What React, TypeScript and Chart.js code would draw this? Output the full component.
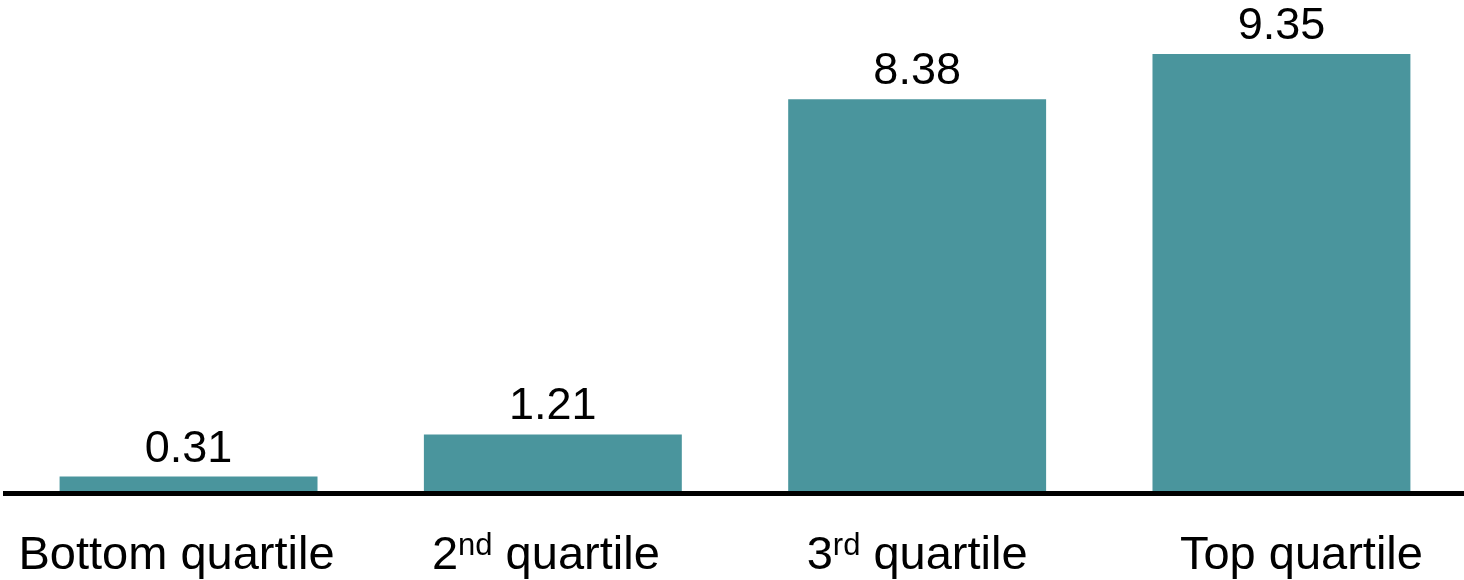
import React, { useEffect, useRef } from "react";
import { Chart, registerables } from "chart.js";

Chart.register(...registerables);

// Quartile groups and their values
const categories = ["Bottom quartile", "2nd quartile", "3rd quartile", "Top quartile"];
const values = [0.31, 1.21, 8.38, 9.35];

const BAR_COLOR = "#4A959D";
const FONT_FAMILY = "'Liberation Sans', Arial, Helvetica, sans-serif";
const VALUE_FONT_SIZE = 45;
const LABEL_FONT_SIZE = 47;
const SUP_SCALE = 0.65;
// small horizontal adjustment of each category caption, in px
const labelShift = [-12, -7, 0, 20];

const annotationPlugin = {
  id: "quartileAnnotations",
  afterDatasetsDraw(chart: any) {
    const { ctx, chartArea } = chart;
    const meta = chart.getDatasetMeta(0);
    const baseY = chartArea.bottom;

    ctx.save();

    // heavy baseline under the bars
    ctx.strokeStyle = "#000000";
    ctx.lineWidth = 5;
    ctx.beginPath();
    ctx.moveTo(3, baseY + 2.5);
    ctx.lineTo(chart.width, baseY + 2.5);
    ctx.stroke();

    // value labels above each bar
    ctx.fillStyle = "#000000";
    ctx.textAlign = "center";
    ctx.textBaseline = "alphabetic";
    ctx.font = `${VALUE_FONT_SIZE}px ${FONT_FAMILY}`;
    meta.data.forEach((bar: any, i: number) => {
      ctx.fillText(values[i].toFixed(2), bar.x, bar.y - 15);
    });

    // category captions, with ordinal suffixes set as superscript
    const mainFont = `${LABEL_FONT_SIZE}px ${FONT_FAMILY}`;
    const supFont = `${Math.round(LABEL_FONT_SIZE * SUP_SCALE)}px ${FONT_FAMILY}`;
    const captionY = baseY + 78;
    ctx.textAlign = "left";
    meta.data.forEach((bar: any, i: number) => {
      const label = categories[i];
      const m = label.match(/^(\d+)(st|nd|rd|th)(.*)$/);
      const parts: { text: string; sup: boolean }[] = m
        ? [
            { text: m[1], sup: false },
            { text: m[2], sup: true },
            { text: m[3], sup: false },
          ]
        : [{ text: label, sup: false }];
      let total = 0;
      parts.forEach((p) => {
        ctx.font = p.sup ? supFont : mainFont;
        total += ctx.measureText(p.text).width;
      });
      let x = bar.x + labelShift[i] - total / 2;
      parts.forEach((p) => {
        ctx.font = p.sup ? supFont : mainFont;
        const y = p.sup ? captionY - LABEL_FONT_SIZE * 0.3 : captionY;
        ctx.fillText(p.text, x, y);
        x += ctx.measureText(p.text).width;
      });
    });

    ctx.restore();
  },
};

export default function App() {
  const canvasRef = useRef<HTMLCanvasElement | null>(null);

  useEffect(() => {
    if (!canvasRef.current) return;
    const chart = new Chart(canvasRef.current, {
      type: "bar",
      data: {
        labels: categories,
        datasets: [
          {
            data: values,
            backgroundColor: BAR_COLOR,
            borderWidth: 0,
            categoryPercentage: 1,
            barPercentage: 0.708,
          },
        ],
      },
      options: {
        responsive: false,
        animation: false,
        layout: {
          padding: { left: 6.4, right: 0.4, top: 23.6, bottom: 89 },
        },
        plugins: {
          legend: { display: false },
          tooltip: { enabled: false },
        },
        scales: {
          x: { display: false },
          y: { display: false, min: 0, max: 10 },
        },
      },
      plugins: [annotationPlugin],
    });
    return () => chart.destroy();
  }, []);

  return (
    <div
      style={{
        position: "fixed",
        left: 0,
        top: 0,
        width: 1464,
        height: 580,
        background: "#ffffff",
      }}
    >
      <canvas ref={canvasRef} width={1464} height={580} />
    </div>
  );
}
